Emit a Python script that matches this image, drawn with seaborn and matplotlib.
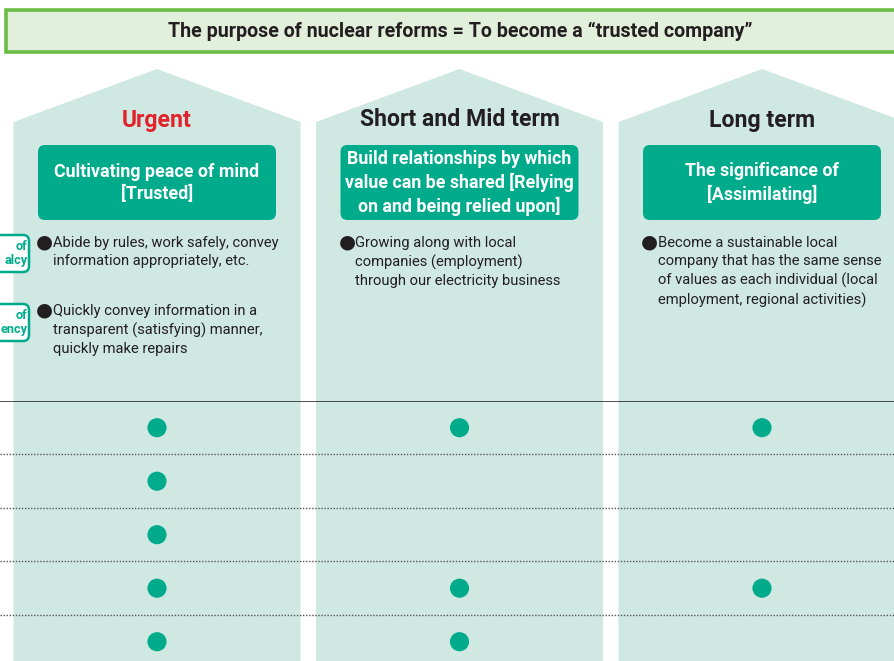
import numpy as np
import pandas as pd
import matplotlib.pyplot as plt
import seaborn as sns
from matplotlib.patches import Polygon, FancyBboxPatch, Rectangle

sns.set_theme(style="white")
plt.rcParams["font.family"] = ["Roboto", "DejaVu Sans"]

# --- data -------------------------------------------------------------
title = "The purpose of nuclear reforms = To become a \u201ctrusted company\u201d"
periods = ["Urgent", "Short and Mid term", "Long term"]
period_colors = ["#e3222b", "#231f20", "#231f20"]
goals = [
    "Cultivating peace of mind\n[Trusted]",
    "Build relationships by which\nvalue can be shared [Relying\non and being relied upon]",
    "The significance of\n[Assimilating]",
]
bullets = [
    ["Abide by rules, work safely, convey\ninformation appropriately, etc.",
     "Quickly convey information in a\ntransparent (satisfying) manner,\nquickly make repairs"],
    ["Growing along with local\ncompanies (employment)\nthrough our electricity business"],
    ["Become a sustainable local\ncompany that has the same sense\nof values as each individual (local\nemployment, regional activities)"],
]
# only the visible part of the left-hand labels (cut off in the source)
side_labels = ["of\nalcy", "of\nency"]
rows = [1, 2, 3, 4, 5]
marks = {
    "Urgent": [1, 1, 1, 1, 1],
    "Short and Mid term": [1, 0, 0, 1, 1],
    "Long term": [1, 0, 0, 1, 0],
}

# --- colours / layout --------------------------------------------------
TEAL = "#00ab8c"
MINT = "#cfe8e1"
W, H = 895, 661
col_x0, col_step, col_w = 157, 302.5, 287
grid_top = 401
row_step = 53.5

fig = plt.figure(figsize=(W / 100, H / 100), dpi=100)
ax = fig.add_axes([0, 0, 1, 1])
ax.set_xlim(0, W)
ax.set_ylim(H, 0)
ax.axis("off")

# title banner
ax.add_patch(Rectangle((6, 10), 900, 42, facecolor="#e1efdb", edgecolor="#6cbd45", lw=2.6))
ax.text(460, 31, title, ha="center", va="center", fontsize=14.1, fontweight="bold", color="#231f20")

# house-shaped columns
for i, period in enumerate(periods):
    cx = col_x0 + col_step * i
    x0, x1 = cx - col_w / 2, cx + col_w / 2
    ax.add_patch(Polygon([(x0, H + 5), (x0, 122), (cx, 69), (x1, 122), (x1, H + 5)],
                         closed=True, facecolor=MINT, edgecolor="none"))
    ax.text(cx, 120, period, ha="center", va="center", fontsize=16.6, fontweight="bold",
            color=period_colors[i])
    ax.add_patch(FancyBboxPatch((cx - 117, 147), 234, 71, boxstyle="round,pad=2,rounding_size=7",
                                facecolor=TEAL, edgecolor="none"))
    ax.text(cx, 183, goals[i], ha="center", va="center", fontsize=12.8, fontweight="bold",
            color="white", linespacing=1.3)
    for j, b in enumerate(bullets[i]):
        ty = 236 + 68 * j
        ax.text(cx - 121, ty - 3.5, "\u25cf", ha="left", va="top", fontsize=14, color="#231f20",
                family=["DejaVu Sans"])
        ax.text(cx - 104, ty, b, ha="left", va="top", fontsize=10.6, color="#231f20",
                linespacing=1.38)

# side labels (cut off at the left edge)
for j, lab in enumerate(side_labels):
    y0 = 235 + 69 * j
    ax.add_patch(FancyBboxPatch((-80, y0), 109, 37, boxstyle="round,pad=0,rounding_size=6",
                                facecolor="white", edgecolor=TEAL, lw=1.8))
    ax.text(27.5, y0 + 18.5, lab, ha="right", va="center", fontsize=9.2, fontweight="bold",
            color=TEAL, linespacing=1.1, multialignment="right")

# --- dot matrix ---------------------------------------------------------
df = pd.DataFrame(
    [(c, r, v) for c in periods for r, v in zip(rows, marks[c])],
    columns=["period", "row", "mark"],
)
df["x"] = df["period"].map({p: i for i, p in enumerate(periods)})
df["y"] = df["row"] - 1
dots = df[df["mark"] == 1]

grid_h = H - grid_top
ax2 = fig.add_axes([0, 0, 1, grid_h / H])
ax2.patch.set_alpha(0)
sns.scatterplot(data=dots, x="x", y="y", ax=ax2, s=190, color=TEAL, edgecolor="none", legend=False)
ax2.set_xlim(-col_x0 / col_step, (W - col_x0) / col_step)
first = 26.7 / row_step
ax2.set_ylim((grid_h - 26.7) / row_step, -first)
ax2.axhline(-first, color="#231f20", lw=1.1)
for k in range(1, len(rows)):
    ax2.axhline(k - 0.5, color="#555555", lw=1.0, ls=(0, (1, 1.2)))
ax2.axis("off")

fig.savefig("out.png", dpi=100)
